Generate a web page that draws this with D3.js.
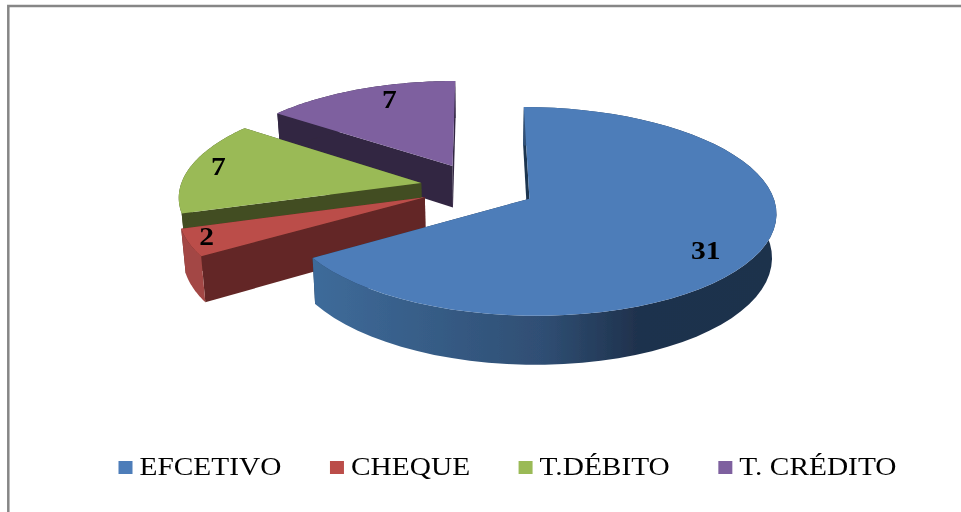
<!DOCTYPE html>
<html>
<head>
<meta charset="utf-8">
<script src="https://cdn.jsdelivr.net/npm/d3@7"></script>
<style>
html, body { margin: 0; padding: 0; background: #fff; }
svg { display: block; }
</style>
</head>
<body>
<div id="graph"></div>
<script>
var categories = ["EFCETIVO", "CHEQUE", "T.DÉBITO", "T. CRÉDITO"];
var values = [31, 2, 7, 7];

var topColors = ["#4d7db9", "#bb4e4a", "#9aba57", "#7e619f"];
var sideColors = ["#1f3550", "#632825", "#424d20", "#322642"];
var rimColors = ["url(#blueRim)", "#a34744", "#424d20", "#322642"];

// label placement, radius along the bisector then a small pixel nudge
var labelRadius = [0.8, 0.92, 0.82, 0.72];
var labelNudge = [[-6, 11], [-2, -2], [-13, -3], [6, -9]];

var width = 961, height = 512;
var explode = 0.24;
var depth = 42.5;
var tilt = 0.12;
var centerX = 478;

// plane coords (radius = 1) to screen, with a bit of perspective
var px = d3.scaleLinear().domain([0, 1]).range([centerX, centerX + 241]);
var py = d3.scaleLinear().domain([0, 1]).range([187, 287]);

function project(u, v, down) {
    var k = 1 / (1 - tilt * v);
    var x = px(u * k), y = py(v * k);
    if (down) {
        x = centerX + (x - centerX) * 0.985;
        y = y + depth * k;
    }
    return [x, y];
}

function polar(o, a, r) {
    return [o[0] + r * Math.sin(a), o[1] - r * Math.cos(a)];
}

var svg = d3.select("#graph").append("svg")
    .attr("width", width)
    .attr("height", height);

var defs = svg.append("defs");
var rim = defs.append("linearGradient").attr("id", "blueRim");
rim.append("stop").attr("offset", "0%").attr("stop-color", "#3e6b9a");
rim.append("stop").attr("offset", "50%").attr("stop-color", "#2f4e73");
rim.append("stop").attr("offset", "70%").attr("stop-color", "#1f324d");
rim.append("stop").attr("offset", "100%").attr("stop-color", "#1d314c");

// the scan looks soft, blur everything a touch
defs.append("filter").attr("id", "soft")
    .attr("x", 0).attr("y", 0)
    .attr("filterUnits", "userSpaceOnUse")
    .attr("width", width).attr("height", height)
    .append("feGaussianBlur").attr("stdDeviation", 0.5);

var root = svg.append("g").attr("filter", "url(#soft)");

// frame, only top and left show in the picture
root.append("path")
    .attr("d", "M8.3,512V6H961")
    .attr("fill", "none")
    .attr("stroke", "#868686")
    .attr("stroke-width", 2.5);

var line = d3.line();
var pie = d3.pie().sort(null).value(function(d) { return d; });
var arcs = pie(values);

function outerPts(o, a0, a1, down) {
    return d3.range(0, 61).map(function(i) {
        var p = polar(o, a0 + (a1 - a0) * i / 60, 1);
        return project(p[0], p[1], down);
    });
}

// painted back to front
[3, 2, 1, 0].forEach(function(i) {
    var d = arcs[i];
    var mid = (d.startAngle + d.endAngle) / 2;
    var o = polar([0, 0], mid, explode);
    var a0 = project(o[0], o[1], false);
    var a1 = project(o[0], o[1], true);
    var g = root.append("g");

    [d.endAngle, d.startAngle].forEach(function(a) {
        var e = polar(o, a, 1);
        g.append("path")
            .attr("d", line([a0, project(e[0], e[1], false), project(e[0], e[1], true), a1]) + "Z")
            .attr("fill", sideColors[i]);
    });

    var top = outerPts(o, d.startAngle, d.endAngle, false);
    var bottom = outerPts(o, d.startAngle, d.endAngle, true).reverse();
    g.append("path")
        .attr("d", line(top.concat(bottom)) + "Z")
        .attr("fill", rimColors[i]);

    g.append("path")
        .attr("d", line([a0].concat(top)) + "Z")
        .attr("fill", topColors[i]);
});

// data labels go on top of everything
arcs.forEach(function(d, i) {
    var mid = (d.startAngle + d.endAngle) / 2;
    var o = polar([0, 0], mid, explode);
    var p = polar(o, mid, labelRadius[i]);
    var s = project(p[0], p[1], false);
    root.append("text")
        .attr("transform", "translate(" + (s[0] + labelNudge[i][0]) + "," + (s[1] + 8 + labelNudge[i][1]) + ") scale(1.18,1)")
        .attr("text-anchor", "middle")
        .attr("font-family", "Liberation Serif")
        .attr("font-weight", "bold")
        .attr("font-size", 25)
        .attr("fill", "#000")
        .text(d.data);
});

// legend, flowed from the measured text widths
var legendX = 118.5, legendScale = 1.13;
categories.forEach(function(c, i) {
    root.append("rect")
        .attr("x", legendX)
        .attr("y", 461)
        .attr("width", 14)
        .attr("height", 13)
        .attr("fill", topColors[i]);
    var t = root.append("text")
        .attr("transform", "translate(" + (legendX + 21) + ",475) scale(" + legendScale + ",1)")
        .attr("font-family", "Liberation Serif")
        .attr("font-size", 26)
        .attr("fill", "#000")
        .text(c);
    legendX += 21 + t.node().getComputedTextLength() * legendScale + 48.5;
});
</script>
</body>
</html>
